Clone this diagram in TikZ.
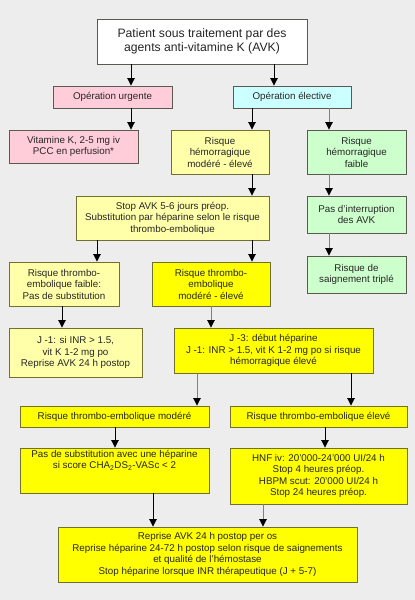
\documentclass[tikz,border=0pt]{standalone}
\usepackage{fontspec}
\setmainfont{Liberation Sans}
\usetikzlibrary{arrows.meta}
\definecolor{bg}{HTML}{EDEDED}
\definecolor{pinkf}{HTML}{FFCCDA}
\definecolor{cyanf}{HTML}{CCFFFF}
\definecolor{lyel}{HTML}{FFFFAA}
\definecolor{byel}{HTML}{FFFF00}
\definecolor{greenf}{HTML}{CCFFCC}
\definecolor{bord}{HTML}{5A5A50}
\definecolor{ybord}{HTML}{707030}
\definecolor{lgray}{HTML}{808080}
\tikzset{
  x=1pt,y=-1pt,
  box/.style={draw=bord,line width=0.9pt,align=center,inner sep=1pt,
    font=\fontsize{9.8}{11.5}\selectfont,text=black!85},
  topbox/.style={box,fill=white,font=\fontsize{12.2}{13.5}\selectfont},
  pinkbox/.style={box,fill=pinkf},
  cyanbox/.style={box,fill=cyanf},
  lybox/.style={box,fill=lyel,draw=ybord},
  bybox/.style={box,fill=byel,draw=ybord},
  grbox/.style={box,fill=greenf},
  arr/.style={line width=0.9pt,draw=black,-{Triangle[width=7.5pt,length=7.5pt]}},
  garr/.style={arr,draw=lgray,-{Triangle[width=7.5pt,length=7.5pt,fill=black,color=black]}},
}
\begin{document}
\begin{tikzpicture}
\fill[bg] (0,0) rectangle (415,600);
\useasboundingbox (0,0) rectangle (415,600);

\node[topbox,minimum width=210pt,minimum height=45pt] (top) at (202,41.5)
  {Patient sous traitement par des\\agents anti-vitamine K (AVK)};
\node[pinkbox,minimum width=119pt,minimum height=22pt] (urg) at (112.5,97) {Opération urgente};
\node[cyanbox,minimum width=118pt,minimum height=22pt] (elec) at (292,97) {Opération élective};
\node[pinkbox,minimum width=129pt,minimum height=33pt] (vitk) at (73.5,146.5)
  {Vitamine K, 2-5 mg iv\\PCC en perfusion*};
\node[lybox,minimum width=98pt,minimum height=44pt] (hmod) at (220,152)
  {Risque\\hémorragique\\modéré - élevé};
\node[grbox,minimum width=99pt,minimum height=44pt] (hfaib) at (356.5,152)
  {Risque\\hémorragique\\faible};
\node[lybox,minimum width=193pt,minimum height=44pt] (stop) at (172.5,218)
  {Stop AVK 5-6 jours préop.\\Substitution par héparine selon le risque\\thrombo-embolique};
\node[grbox,minimum width=99pt,minimum height=37pt] (pasint) at (356.5,214.5)
  {Pas d’interruption\\des AVK};
\node[grbox,minimum width=99pt,minimum height=37pt] (saign) at (356.5,274.5)
  {Risque de\\saignement triplé};
\node[lybox,minimum width=110pt,minimum height=44pt] (tefaib) at (64,284)
  {Risque thrombo-\\embolique faible:\\Pas de substitution};
\node[bybox,minimum width=118pt,minimum height=44pt] (temod) at (211,284)
  {Risque thrombo-\\embolique\\modéré - élevé};
\node[lybox,minimum width=133pt,minimum height=49pt] (j1) at (75.5,352.5)
  {J -1: si INR > 1.5,\\vit K 1-2 mg po\\Reprise AVK 24 h postop};
\node[bybox,minimum width=199pt,minimum height=45pt] (j3) at (273.5,350.5)
  {J -3: début héparine\\J -1: INR > 1.5, vit K 1-2 mg po si risque\\hémorragique élevé};
\node[bybox,minimum width=189pt,minimum height=21pt] (rmod) at (114.5,416.5)
  {Risque thrombo-embolique modéré};
\node[bybox,minimum width=177pt,minimum height=21pt] (relev) at (318.5,416.5)
  {Risque thrombo-embolique élevé};
\node[bybox,minimum width=189pt,minimum height=45pt] (pasub) at (114.5,470.5)
  {Pas de substitution avec une héparine\\si score CHA\textsubscript{2}DS\textsubscript{2}-VASc < 2\\[11pt]};
\node[bybox,minimum width=177pt,minimum height=56pt] (hnf) at (318.5,476)
  {HNF iv: 20’000-24’000 UI/24 h\\Stop 4 heures préop.\\HBPM scut: 20’000 UI/24 h\\Stop 24 heures préop.};
\node[bybox,minimum width=299pt,minimum height=55pt] (final) at (207.5,554.5)
  {Reprise AVK 24 h postop per os\\Reprise héparine 24-72 h postop selon risque de saignements\\et qualité de l’hémostase\\Stop héparine lorsque INR thérapeutique (J + 5-7)};

\draw[arr] (top.south -| 131,0) -- (urg.north -| 131,0);
\draw[arr] (top.south -| 274,0) -- (elec.north -| 274,0);
\draw[arr] (urg.south -| 131,0) -- (vitk.north -| 131,0);
\draw[arr] (elec.south -| 252,0) -- (hmod.north -| 252,0);
\draw[garr] (elec.south -| 329,0) -- (hfaib.north -| 329,0);
\draw[arr] (hmod.south -| 252,0) -- (stop.north -| 252,0);
\draw[garr] (hfaib.south -| 329,0) -- (pasint.north -| 329,0);
\draw[garr] (pasint.south -| 329,0) -- (saign.north -| 329,0);
\draw[arr] (stop.south -| 97,0) -- (tefaib.north -| 97,0);
\draw[arr] (stop.south -| 252,0) -- (temod.north -| 252,0);
\draw[arr] (tefaib.south -| 62,0) -- (j1.north -| 62,0);
\draw[garr] (temod.south -| 211,0) -- (j3.north -| 211,0);
\draw[garr] (j3.south -| 197,0) -- (rmod.north -| 197,0);
\draw[arr] (j3.south -| 351,0) -- (relev.north -| 351,0);
\draw[arr] (rmod.south -| 115,0) -- (pasub.north -| 115,0);
\draw[arr] (relev.south -| 325,0) -- (hnf.north -| 325,0);
\draw[arr] (pasub.south -| 153,0) -- (final.north -| 153,0);
\draw[garr] (hnf.south -| 263,0) -- (final.north -| 263,0);
\end{tikzpicture}
\end{document}
